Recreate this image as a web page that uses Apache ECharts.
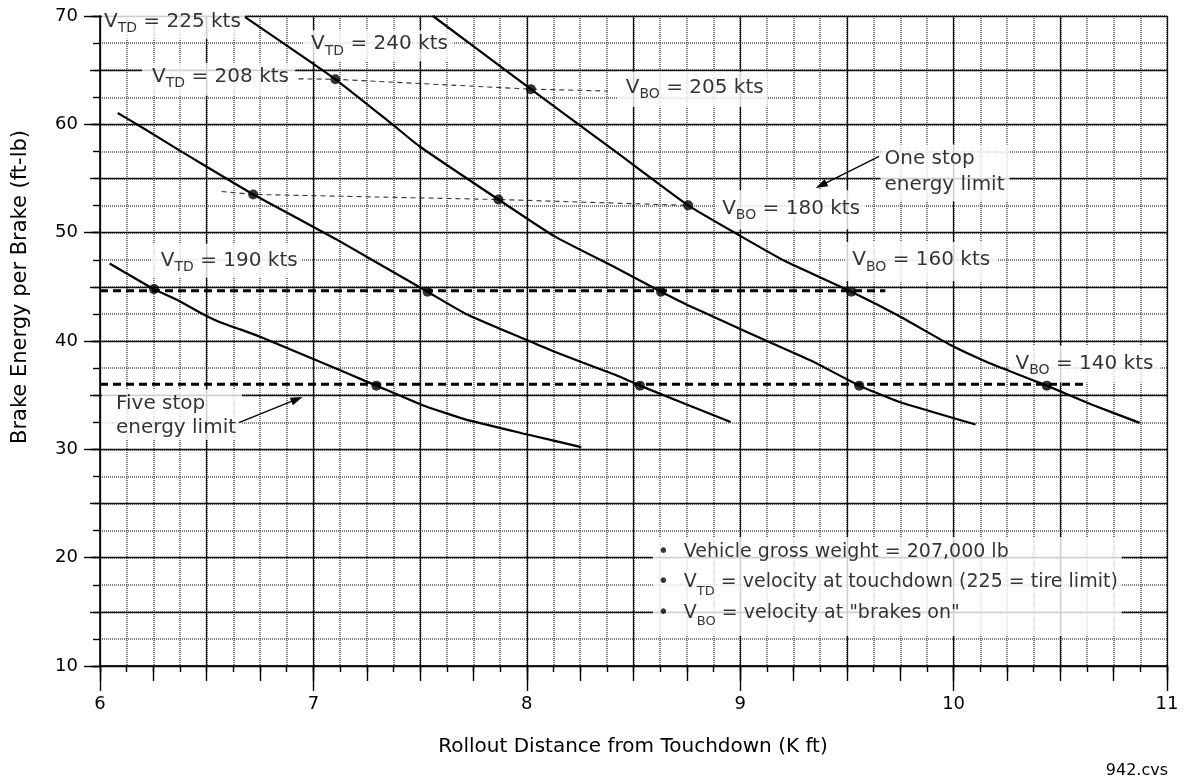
<!DOCTYPE html>
<html>
<head>
<meta charset="utf-8">
<script src="https://cdn.jsdelivr.net/npm/echarts@6/dist/echarts.min.js"></script>
<style>
html,body{margin:0;padding:0;background:#fff;}
#chart{width:1185px;height:780px;}
</style>
</head>
<body>
<div id="chart"></div>
<script>
// ---------- data (x: rollout distance, K ft ; y: brake energy per brake) ----------
const curveVTD190 = [[6.045,47.16],[6.253,44.79],[6.369,43.72],[6.481,42.5],[6.569,41.68],[6.657,41.07],[6.753,40.37],[6.994,38.38],[7.106,37.47],[7.25,36.25],[7.295,35.88],[7.506,34.12],[7.715,32.74],[8.003,31.37],[8.255,30.21]];
const curveVTD208 = [[6.083,61.04],[6.19,59.8],[6.372,57.6],[6.49,56.2],[6.718,53.53],[7.106,49.4],[7.535,44.54],[7.715,42.5],[8.003,40.06],[8.13,39.0],[8.417,36.86],[8.53,35.88],[8.955,32.53]];
const curveVTD225 = [[6.68,69.9],[7.103,64.16],[7.37,60.0],[7.495,58.0],[7.867,53.06],[8.13,49.66],[8.417,46.77],[8.629,44.54],[8.76,43.26],[8.913,41.9],[9.128,39.97],[9.343,38.08],[9.558,35.88],[9.74,34.42],[10.103,32.29]];
const curveVTD240 = [[7.56,70.0],[8.019,63.25],[8.418,57.45],[8.756,52.52],[9.004,49.66],[9.21,47.38],[9.521,44.54],[9.74,42.35],[9.988,39.6],[10.153,38.08],[10.27,37.16],[10.437,35.88],[10.649,34.12],[10.872,32.44]];

const brakesOnPoints = [[6.253,44.79],[7.295,35.88],[6.718,53.53],[7.535,44.54],[8.53,35.88],[7.103,64.16],[7.867,53.06],[8.629,44.54],[9.558,35.88],[8.019,63.25],[8.756,52.52],[9.521,44.54],[10.437,35.88]];

const vbo205Line = [[6.93,64.2],[7.103,64.16],[8.019,63.25],[8.38,63.07]];
const vbo180Line = [[6.57,53.8],[6.718,53.53],[7.867,53.06],[8.756,52.52]];
const oneStopLimit = [[6.0,44.65],[9.68,44.65]];
const fiveStopLimit = [[6.0,36.0],[10.61,36.0]];

const oneStopArrow = [[9.651,57.04],[9.379,54.37]];
const fiveStopArrow = [[6.651,32.46],[6.923,34.63]];

const xRange = [6, 11];
const yRange = [10, 70];

const annotationTexts = {
  td225: 'V{s|TD} = 225 kts',
  td240: 'V{s|TD} = 240 kts',
  td208: 'V{s|TD} = 208 kts',
  bo205: 'V{s|BO} = 205 kts',
  bo180: 'V{s|BO} = 180 kts',
  oneStop: 'One stop\nenergy limit',
  bo160: 'V{s|BO} = 160 kts',
  bo140: 'V{s|BO} = 140 kts',
  td190: 'V{s|TD} = 190 kts',
  fiveStop: 'Five stop\nenergy limit',
  notes: '{b|•}Vehicle gross weight = 207,000 lb\n{b|•}V{t|TD} = velocity at touchdown (225 = tire limit)\n{b|•}V{t|BO} = velocity at "brakes on"'
};
const xTitle = 'Rollout Distance from Touchdown (K ft)';
const yTitle = 'Brake Energy per Brake (ft-lb)';
const fileTag = '942.cvs';

// ---------- layout / styling ----------
const FONT = 'DejaVu Sans';
const annotationLayout = [
  {key:'td225', at:[6.007,69.33], pad:[0,4,3,2]},
  {key:'td240', at:[6.954,67.25], pad:[0,5,3,7]},
  {key:'td208', at:[6.195,64.16], pad:[0,6,5,10]},
  {key:'bo205', at:[8.424,63.23], pad:[2,4,5,8]},
  {key:'bo180', at:[8.885,52.11], pad:[4,5,7,6]},
  {key:'oneStop', at:[9.655,55.52], pad:[2,5,4,4], lh:25.3},
  {key:'bo160', at:[9.49,47.35], pad:[4,7,7,7]},
  {key:'bo140', at:[10.255,37.88], pad:[4,7,5,7]},
  {key:'td190', at:[6.2405,47.4], pad:[3,4,3,9]},
  {key:'fiveStop', at:[6.007,33.19], pad:[2,6,0,14], lh:24.3},
  {key:'notes', at:[8.588,17.34], pad:[0,4,8,5], lh:30.3, fs:19}
];

const annotationData = annotationLayout.map(a => ({
  value: a.at,
  label: {
    show: true,
    position: 'right',
    distance: 0,
    formatter: annotationTexts[a.key],
    fontFamily: FONT,
    fontSize: a.fs || 20,
    lineHeight: a.lh || 28,
    color: '#000',
    backgroundColor: '#fff',
    padding: a.pad,
    rich: {
      s: {fontFamily: FONT, fontSize: 14, lineHeight: 14, verticalAlign: 'bottom', color:'#000'},
      t: {fontFamily: FONT, fontSize: 13, lineHeight: 13, verticalAlign: 'bottom', color:'#000'},
      b: {fontFamily: FONT, fontSize: 19, width: 26, color:'#000'}
    }
  }
}));

function xAx(interval, opts) {
  return Object.assign({
    type: 'value', min: xRange[0], max: xRange[1], interval: interval,
    position: 'bottom', offset: 0,
    axisLine: {show: false},
    axisTick: {show: false},
    axisLabel: {show: false},
    splitLine: {show: false}
  }, opts);
}
function yAx(interval, opts) {
  return Object.assign({
    type: 'value', min: yRange[0], max: yRange[1], interval: interval,
    position: 'left', offset: 0,
    axisLine: {show: false},
    axisTick: {show: false},
    axisLabel: {show: false},
    splitLine: {show: false}
  }, opts);
}
const dotted = {color: '#555', width: 1.5, type: [1, 1]};
const solid = {color: '#111', width: 1.3};
const tickStyle = {color: '#000', width: 1.4};

const option = {
  animation: false,
  backgroundColor: '#fff',
  grid: {left: 100, top: 16, right: 18, bottom: 114, containLabel: false, outerBoundsMode: 'none'},
  xAxis: [
    xAx(0.125, {z: 0, axisTick: {show: true, length: 6, lineStyle: tickStyle},
      splitLine: {show: true, showMinLine: true, showMaxLine: true, lineStyle: dotted}}),
    xAx(0.25, {z: 0, axisTick: {show: true, length: 15, lineStyle: tickStyle}}),
    xAx(0.5, {z: 0.5, splitLine: {show: true, showMinLine: true, showMaxLine: true, lineStyle: solid}}),
    xAx(1, {z: 0.5, axisLine: {show: true, onZero: false, lineStyle: {color: '#000', width: 1.5}},
      axisTick: {show: true, length: 25, lineStyle: tickStyle},
      axisLabel: {show: true, margin: 29, fontFamily: FONT, fontSize: 18, color: '#000', showMinLabel: true, showMaxLabel: true}})
  ],
  yAxis: [
    yAx(2.5, {z: 0, axisTick: {show: true, length: 7, lineStyle: tickStyle},
      splitLine: {show: true, showMinLine: true, showMaxLine: true, lineStyle: dotted}}),
    yAx(5, {z: 0.5, axisTick: {show: true, length: 10, lineStyle: tickStyle},
      splitLine: {show: true, showMinLine: true, showMaxLine: true, lineStyle: solid}}),
    yAx(10, {z: 0.5, axisLine: {show: true, onZero: false, lineStyle: {color: '#000', width: 1.5}},
      axisTick: {show: true, length: 16, lineStyle: tickStyle},
      axisLabel: {show: true, margin: 22, fontFamily: FONT, fontSize: 18, color: '#000', showMinLabel: true, showMaxLabel: true}})
  ],
  series: [
    {type: 'scatter', name: 'annotations', z: 1, silent: true, symbolSize: 1,
      itemStyle: {color: 'rgba(0,0,0,0)'}, data: annotationData},
    {type: 'line', name: 'VBO 205', z: 2.5, silent: true, showSymbol: false, symbol: 'none',
      lineStyle: {color: '#333', width: 1.1, type: [5, 4]}, data: vbo205Line},
    {type: 'line', name: 'VBO 180', z: 2.5, silent: true, showSymbol: false, symbol: 'none',
      lineStyle: {color: '#333', width: 1.1, type: [5, 4]}, data: vbo180Line},
    {type: 'line', name: 'One stop energy limit', z: 2.5, silent: true, showSymbol: false, symbol: 'none',
      lineStyle: {color: '#000', width: 3, type: [8, 5]}, data: oneStopLimit,
      markLine: {silent: true, symbol: ['none', 'triangle'], symbolSize: [8, 12], label: {show: false},
        lineStyle: {color: '#000', width: 1.3, type: 'solid'},
        data: [[{coord: oneStopArrow[0]}, {coord: oneStopArrow[1]}]]}},
    {type: 'line', name: 'Five stop energy limit', z: 2.5, silent: true, showSymbol: false, symbol: 'none',
      lineStyle: {color: '#000', width: 3, type: [8, 5]}, data: fiveStopLimit,
      markLine: {silent: true, symbol: ['none', 'triangle'], symbolSize: [8, 12], label: {show: false},
        lineStyle: {color: '#000', width: 1.3, type: 'solid'},
        data: [[{coord: fiveStopArrow[0]}, {coord: fiveStopArrow[1]}]]}},
    {type: 'line', name: 'VTD 190', z: 3, silent: true, showSymbol: false, symbol: 'none', smooth: 0.15,
      lineStyle: {color: '#000', width: 2.2}, data: curveVTD190},
    {type: 'line', name: 'VTD 208', z: 3, silent: true, showSymbol: false, symbol: 'none', smooth: 0.15,
      lineStyle: {color: '#000', width: 2.2}, data: curveVTD208},
    {type: 'line', name: 'VTD 225', z: 3, silent: true, showSymbol: false, symbol: 'none', smooth: 0.15,
      lineStyle: {color: '#000', width: 2.2}, data: curveVTD225},
    {type: 'line', name: 'VTD 240', z: 3, silent: true, showSymbol: false, symbol: 'none', smooth: 0.15,
      lineStyle: {color: '#000', width: 2.2}, data: curveVTD240},
    {type: 'scatter', name: 'brakes on', z: 4, silent: true, symbolSize: 10,
      itemStyle: {color: '#000'}, data: brakesOnPoints}
  ],
  graphic: [
    {type: 'text', x: 633, y: 747, silent: true,
      style: {text: xTitle, font: '20px "DejaVu Sans"', fill: '#000', textAlign: 'center', textVerticalAlign: 'middle'}},
    {type: 'text', x: 21, y: 287, rotation: Math.PI / 2, silent: true,
      style: {text: yTitle, font: '21px "DejaVu Sans"', fill: '#000', textAlign: 'center', textVerticalAlign: 'middle'}},
    {type: 'text', x: 1168, y: 771, silent: true,
      style: {text: fileTag, font: '16px "DejaVu Sans"', fill: '#000', textAlign: 'right', textVerticalAlign: 'middle'}}
  ]
};

const chart = echarts.init(document.getElementById('chart'), null, {renderer: 'canvas'});
chart.setOption(option);
</script>
</body>
</html>
